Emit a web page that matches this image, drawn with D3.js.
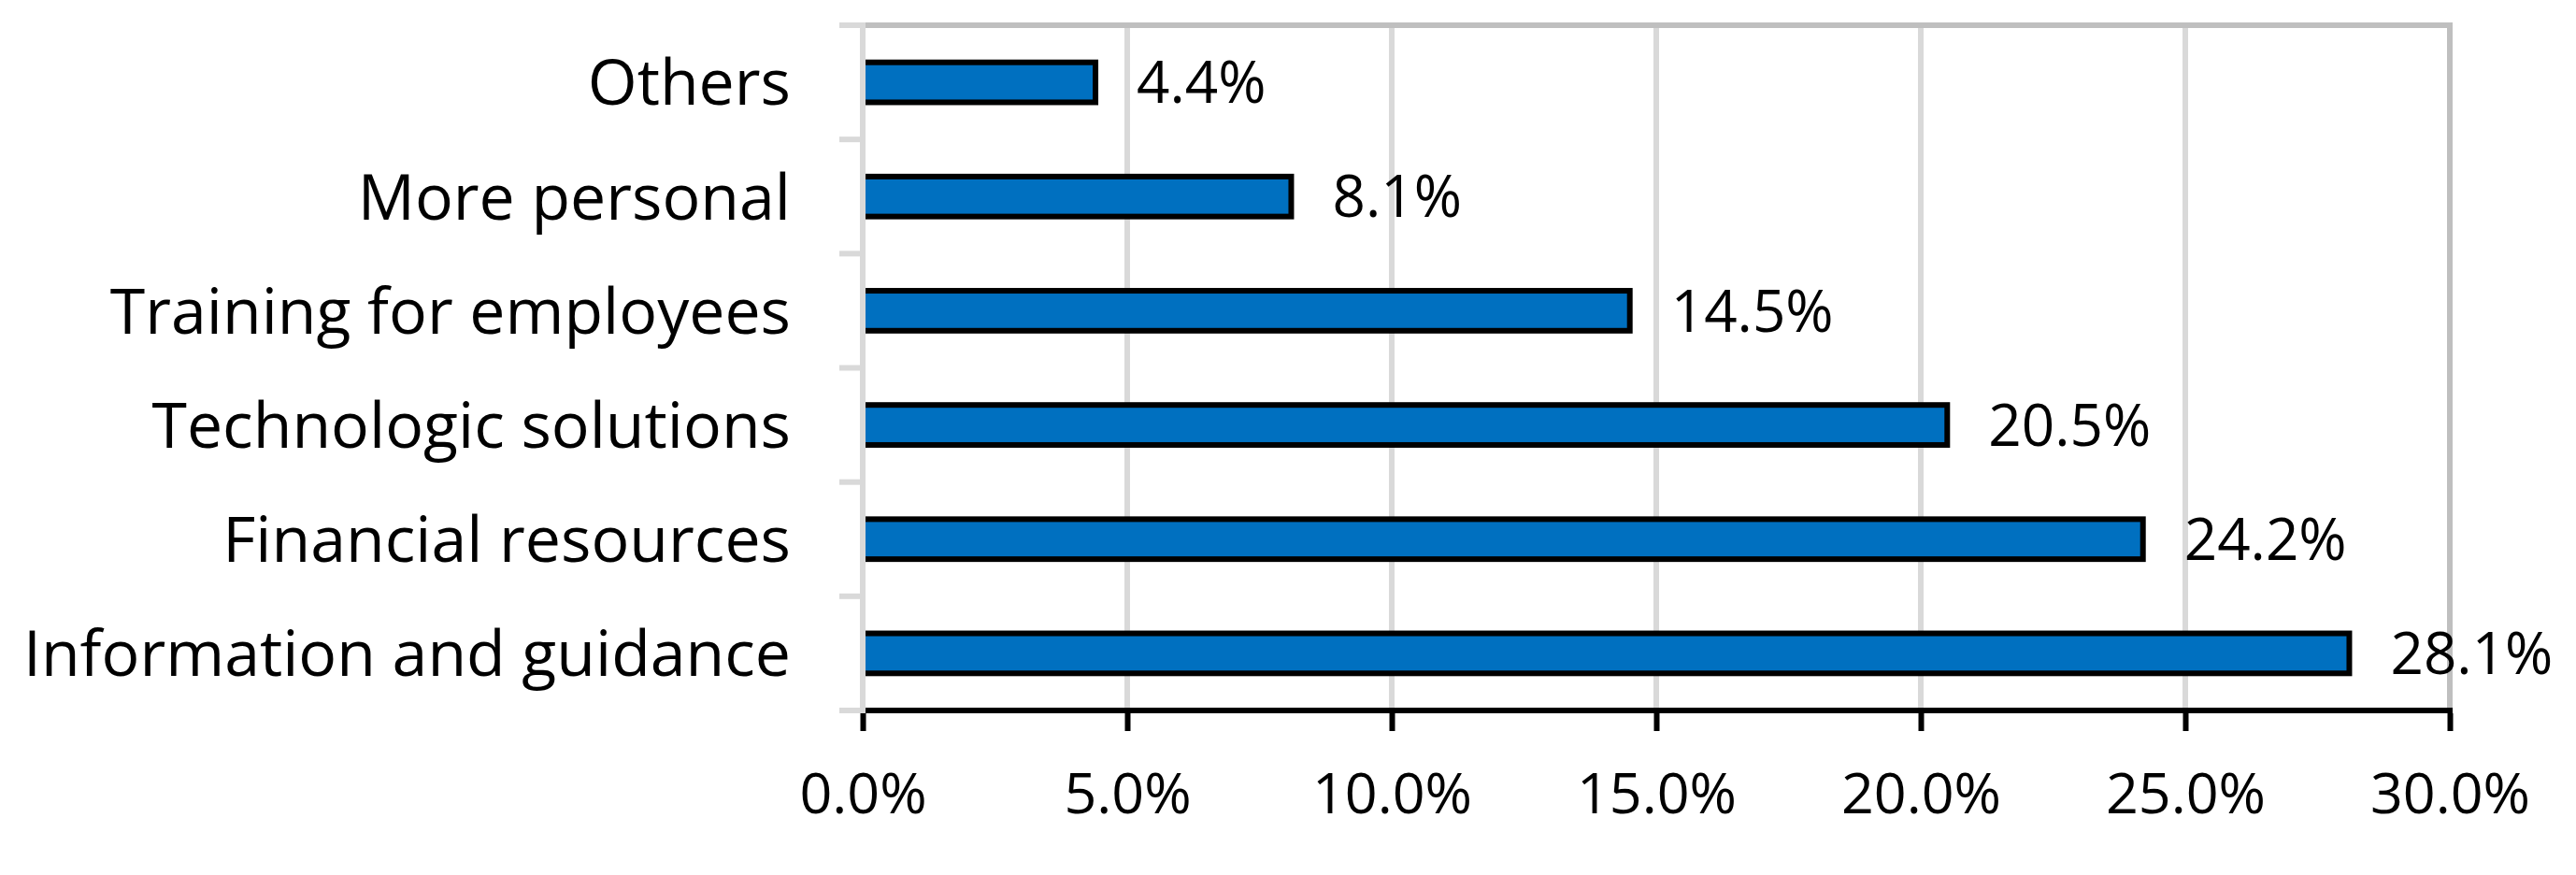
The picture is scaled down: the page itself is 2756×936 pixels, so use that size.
<!DOCTYPE html>
<html>
<head>
<meta charset="utf-8">
<script src="https://cdn.jsdelivr.net/npm/d3@7"></script>
<style>
  html, body { margin: 0; padding: 0; background: #ffffff; }
  svg { display: block; }
</style>
</head>
<body>
<svg id="chart" width="2756" height="936"></svg>
<script>
const categories = ["Others", "More personal", "Training for employees", "Technologic solutions", "Financial resources", "Information and guidance"];
const values = [4.4, 8.1, 14.5, 20.5, 24.2, 28.1];
const xTicks = [0, 5, 10, 15, 20, 25, 30];

const W = 2756, H = 936;
const margin = { left: 923, right: W - 2621, top: 27, bottom: H - 760 };
const FONT = "'Open Sans', Lato, sans-serif";
const catSize = 68, labSize = 62, tickSize = 61;

const svg = d3.select("#chart");
const data = categories.map((c, i) => ({ cat: c, val: values[i] }));

const x = d3.scaleLinear().domain([0, 30]).range([margin.left, W - margin.right]);
const y = d3.scaleBand().domain(categories).range([margin.top, H - margin.bottom])
  .paddingInner(0.65).paddingOuter(0.325);

const gGrid = svg.append("g");
// vertical gridlines
gGrid.selectAll("line.grid").data(xTicks.filter(t => t > 0 && t < 30)).enter().append("line")
  .attr("x1", d => x(d)).attr("x2", d => x(d))
  .attr("y1", margin.top).attr("y2", H - margin.bottom)
  .attr("stroke", "#d9d9d9").attr("stroke-width", 6);
// plot border top & right
gGrid.append("line")
  .attr("x1", x(0)).attr("x2", x(30) + 3)
  .attr("y1", margin.top).attr("y2", margin.top)
  .attr("stroke", "#bfbfbf").attr("stroke-width", 6);
gGrid.append("line")
  .attr("x1", x(30)).attr("x2", x(30))
  .attr("y1", margin.top).attr("y2", H - margin.bottom)
  .attr("stroke", "#bfbfbf").attr("stroke-width", 6);

// bars
svg.append("g").selectAll("rect").data(data).enter().append("rect")
  .attr("x", x(0))
  .attr("y", d => y(d.cat))
  .attr("width", d => x(d.val) - x(0))
  .attr("height", y.bandwidth())
  .attr("fill", "#0070c0")
  .attr("stroke", "#000000")
  .attr("stroke-width", 6);

// value labels
svg.append("g").selectAll("text").data(data).enter().append("text")
  .attr("x", d => x(d.val) + 44)
  .attr("y", d => y(d.cat) + y.bandwidth() / 2 + 0.357 * labSize)
  .attr("font-family", FONT).attr("font-size", labSize)
  .attr("fill", "#000")
  .text(d => d.val.toFixed(1) + "%");

// x axis
const xAxis = d3.axisBottom(x).tickValues(xTicks).tickSize(22).tickSizeOuter(0)
  .tickFormat(d => d.toFixed(1) + "%");
const gx = svg.append("g").attr("transform", `translate(0,${H - margin.bottom})`).call(xAxis);
gx.select(".domain").attr("stroke", "#000").attr("stroke-width", 6)
  .attr("d", `M${x(0) - 3},0H${x(30) + 3}`);
gx.selectAll(".tick line").attr("stroke", "#000").attr("stroke-width", 6).attr("y1", 3);
gx.selectAll(".tick text").attr("y", 110).attr("dy", 0)
  .attr("font-family", FONT).attr("font-size", tickSize).attr("fill", "#000");

// y axis (light gray line + boundary ticks)
const step = y.step();
const bounds = [y(categories[0]) + y.bandwidth() / 2 - step / 2]
  .concat(categories.map(c => y(c) + y.bandwidth() / 2 + step / 2));
const gy = svg.append("g");
gy.append("line")
  .attr("x1", x(0)).attr("x2", x(0))
  .attr("y1", margin.top - 3).attr("y2", H - margin.bottom + 3)
  .attr("stroke", "#d9d9d9").attr("stroke-width", 6);
gy.selectAll("line.tk").data(bounds).enter().append("line")
  .attr("x1", x(0) - 25).attr("x2", x(0) - 3)
  .attr("y1", d => d).attr("y2", d => d)
  .attr("stroke", "#d9d9d9").attr("stroke-width", 6);

// category labels
const yAxis = d3.axisLeft(y).tickSize(0).tickPadding(77);
const gyl = svg.append("g").attr("transform", `translate(${x(0)},0)`).call(yAxis);
gyl.select(".domain").remove();
gyl.selectAll(".tick text").attr("dy", 0).attr("y", 0.357 * catSize)
  .attr("font-family", FONT).attr("font-size", catSize).attr("fill", "#000");
</script>
</body>
</html>
